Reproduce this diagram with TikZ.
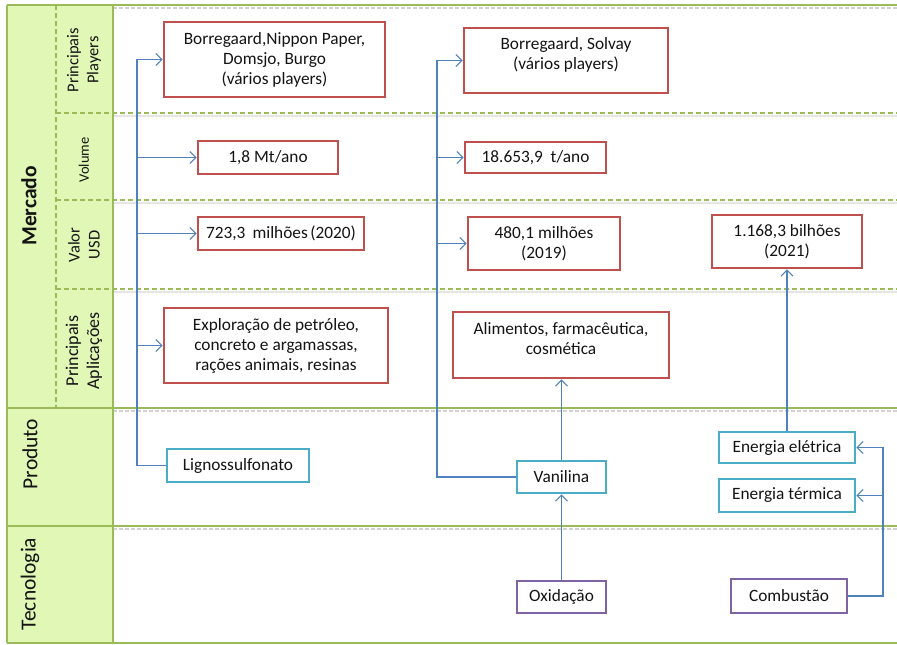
\documentclass[tikz,border=0pt]{standalone}
\usepackage{fontspec}
\setmainfont{Carlito}
\usetikzlibrary{arrows.meta}
\definecolor{gridgreen}{RGB}{155,187,89}
\definecolor{panelgreen}{RGB}{224,247,182}
\definecolor{boxred}{RGB}{192,80,77}
\definecolor{boxcyan}{RGB}{75,172,198}
\definecolor{boxpurple}{RGB}{128,100,162}
\definecolor{linkblue}{RGB}{79,129,189}
\definecolor{ink}{RGB}{20,20,20}
\begin{document}
\begin{tikzpicture}[x=1pt,y=-1pt,
  box/.style={draw, fill=white, line width=2.7pt, inner sep=0pt, align=center,
    text=ink, font=\fontsize{17.3}{20}\selectfont},
  redbox/.style={box, draw=boxred},
  cyanbox/.style={box, draw=boxcyan},
  purplebox/.style={box, draw=boxpurple},
  boxtext/.style={align=center, inner sep=0pt, text=ink, font=\fontsize{17.3}{20}\selectfont},
  mainlabel/.style={rotate=90, text=ink, font=\fontsize{21.5}{24}\selectfont},
  sublabel/.style={rotate=90, align=center, text=ink, font=\fontsize{16.5}{20}\selectfont},
  gridline/.style={draw=gridgreen, line width=1.3pt},
  subline/.style={draw=gridgreen, line width=1.1pt, dash pattern=on 5pt off 3pt},
  shadowline/.style={draw=black!18, line width=1.6pt, dash pattern=on 4pt off 2pt},
  link/.style={draw=linkblue, line width=1.2pt},
  linkarrow/.style={link, -{Straight Barb[length=6pt,width=12pt,line width=1.1pt]}}
]
\useasboundingbox (0,0) rectangle (897,645);

% label column
\fill[panelgreen] (7,5) rectangle (113,643);

% row shadows in the content area
\foreach \yy in {5,408,526} \draw[shadowline] (113,\yy+3) -- (897,\yy+3);
\foreach \yy in {113,200,289} \draw[draw=black!10, line width=1.4pt] (113,\yy+3) -- (897,\yy+3);

% grid lines
\draw[gridline] (7,5) -- (897,5);
\draw[gridline] (7,408) -- (897,408);
\draw[gridline] (7,526) -- (897,526);
\draw[gridline] (7,643) -- (897,643);
\draw[gridline] (7,5) -- (7,643);
\draw[gridline, line width=2pt] (113,5) -- (113,643);
\draw[subline] (56,5) -- (56,408);
\foreach \yy in {113,200,289} \draw[subline] (56,\yy) -- (897,\yy);

% row labels
\node[mainlabel, font=\fontsize{21.5}{24}\selectfont\bfseries] (lmerc) at (29,206) {Mercado};
\node[mainlabel] (lprod) at (30,454) {Produto};
\node[mainlabel] (ltec) at (30,584) {Tecnologia};
\node[sublabel] (lplay) at (84,60) {Principais\\Players};
\node[sublabel, font=\fontsize{14.5}{18}\selectfont] (lvol) at (84,160) {Volume};
\node[sublabel] (lval) at (84,245) {Valor\\USD};
\node[sublabel, font=\fontsize{18}{21}\selectfont] (lapl) at (84,351) {Principais\\Aplicações};

% market boxes, lignosulfonate column
\node[redbox, minimum width=221pt, minimum height=75pt] (play1) at (274.5,59.5)
  {Borregaard,Nippon Paper,\\Domsjo, Burgo\\(vários players)};
\node[redbox, minimum width=140pt, minimum height=33pt] (vol1) at (268,157.5) {1,8 Mt/ano};
\node[redbox, minimum width=166pt, minimum height=33pt] (val1) at (281,233.5)
  {723,3\hspace{7pt}milhões\hspace{2.5pt}(2020)};
\node[redbox, minimum width=224pt, minimum height=75pt] (apl1) at (276,345.5)
  {Exploração de petróleo,\\concreto e argamassas,\\rações animais, resinas};

% market boxes, vanillin column
\node[redbox, minimum width=204pt, minimum height=65pt] (play2) at (566,60.5) {};
\node[boxtext] (play2t) at (566,55) {Borregaard, Solvay\\(vários players)};
\node[redbox, minimum width=141pt, minimum height=31pt] (vol2) at (535.5,157.5) {18.653,9\ \ t/ano};
\node[redbox, minimum width=152pt, minimum height=53pt] (val2) at (544,243.5) {480,1 milhões\\(2019)};
\node[redbox, minimum width=216pt, minimum height=66pt] (apl2) at (561,345) {};
\node[boxtext] (apl2t) at (561,339) {Alimentos, farmacêutica,\\cosmética};

% market box, energy column
\node[redbox, minimum width=150pt, minimum height=53pt] (val3) at (787,241.5) {1.168,3 bilhões\\(2021)};

% products
\node[cyanbox, minimum width=142pt, minimum height=33pt] (ligno) at (238,465.5) {Lignossulfonato};
\node[cyanbox, minimum width=89pt, minimum height=32pt] (van) at (561.5,477) {Vanilina};
\node[cyanbox, minimum width=136pt, minimum height=31pt] (eel) at (787,447.5) {Energia elétrica};
\node[cyanbox, minimum width=136pt, minimum height=33pt] (eter) at (787,495.5) {Energia térmica};

% technologies
\node[purplebox, minimum width=89pt, minimum height=32pt] (oxi) at (561.5,597) {Oxidação};
\node[purplebox, minimum width=116pt, minimum height=34pt] (comb) at (789,596) {Combustão};

% lignosulfonate links
\coordinate (lspine) at (137,0);
\draw[linkarrow] (ligno.west) -| (lspine |- play1.west) -- (play1.west);
\draw[linkarrow] (lspine |- vol1.west) -- (vol1.west);
\draw[linkarrow] (lspine |- val1.west) -- (val1.west);
\draw[linkarrow] (lspine |- apl1.west) -- (apl1.west);

% vanillin links
\coordinate (vspine) at (437,0);
\draw[linkarrow] (van.west) -| (vspine |- play2.west) -- (play2.west);
\draw[linkarrow] (vspine |- vol2.west) -- (vol2.west);
\draw[linkarrow] (vspine |- val2.west) -- (val2.west);
\draw[linkarrow] (van.north) -- (van.north |- apl2.south);
\draw[linkarrow] (oxi.north) -- (van.south);

% energy links
\draw[linkarrow] (eel.north) -- (eel.north |- val3.south);
\coordinate (cspine) at (883,0);
\draw[linkarrow] (comb.east) -| (cspine |- eel.east) -- (eel.east);
\draw[linkarrow] (cspine |- eter.east) -- (eter.east);
\end{tikzpicture}
\end{document}
